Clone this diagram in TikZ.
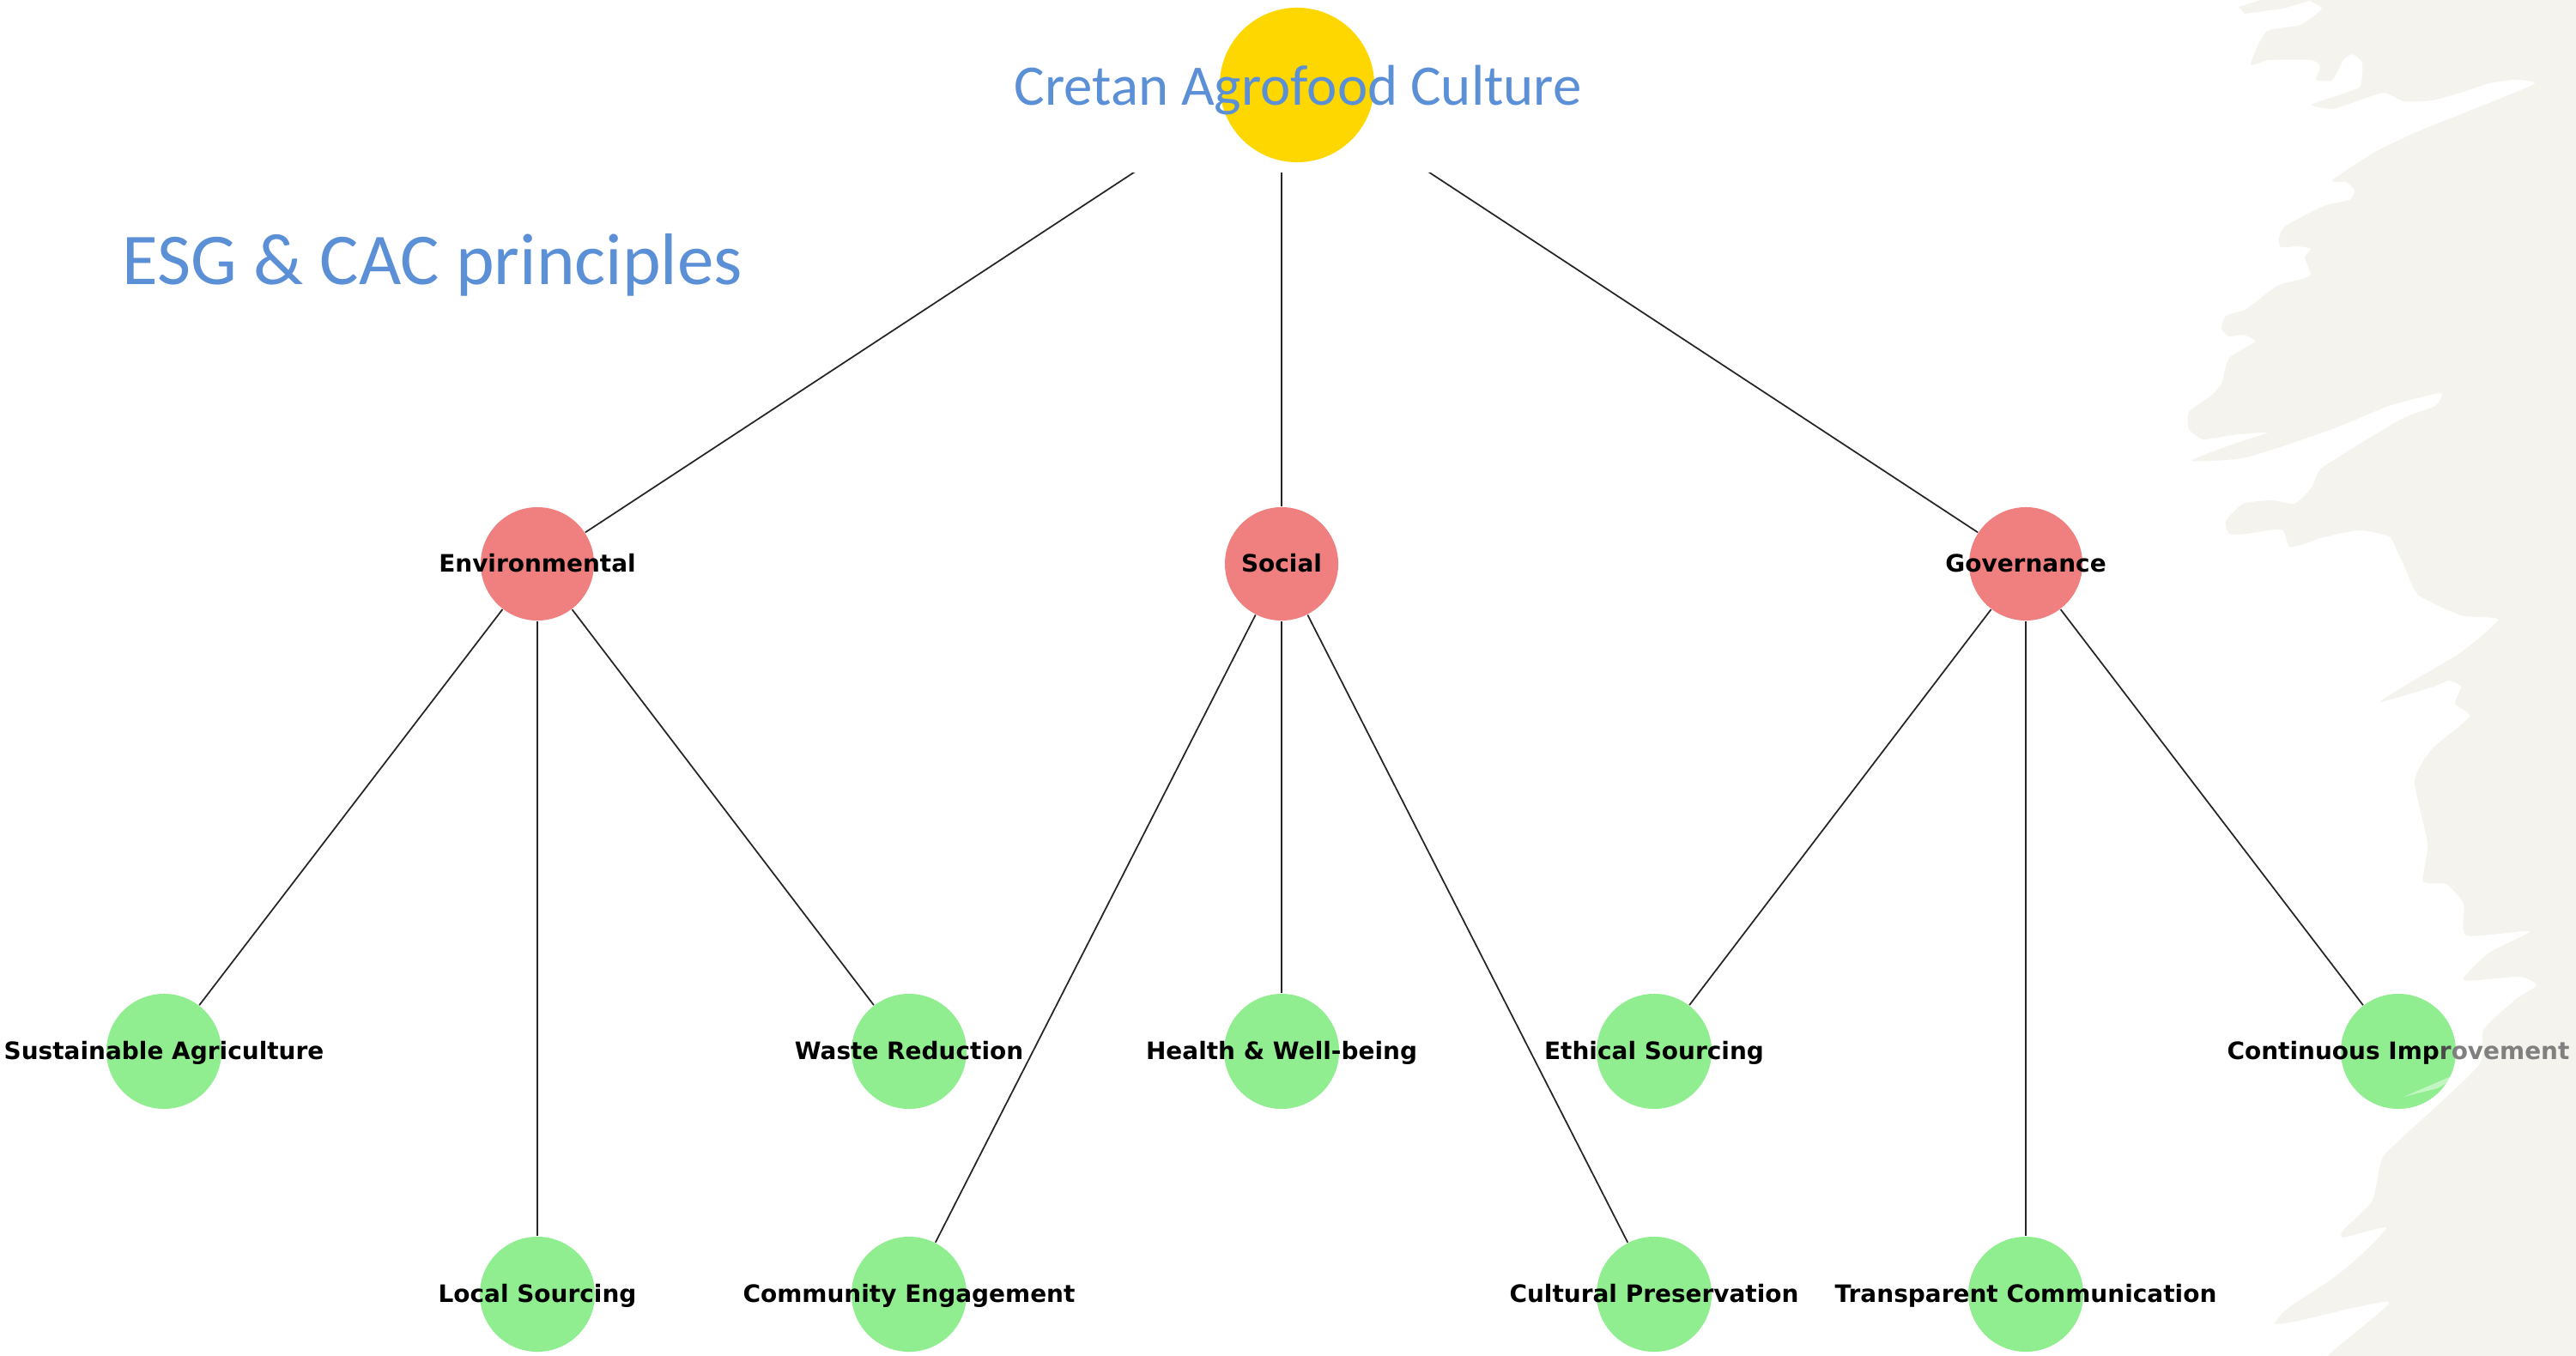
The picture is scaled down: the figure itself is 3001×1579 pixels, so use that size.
\documentclass[tikz,border=0pt]{standalone}
\usepackage{fontspec}
\setmainfont{DejaVu Sans}
\newfontfamily\headfont{Carlito}

\definecolor{titleblue}{HTML}{5B8FD6}
\definecolor{sun}{HTML}{FFD700}
\definecolor{coral}{HTML}{F08080}
\definecolor{leaf}{HTML}{90EE90}
\definecolor{paper}{HTML}{F4F3EE}

\pgfdeclarelayer{texture}
\pgfdeclarelayer{edges}
\pgfsetlayers{texture,edges,main}

% brush-stroke paper strip along the right edge
\def\brushpath{plot[smooth cycle, tension=0.35] coordinates {
  (2705,-10) (2705,10) (2680,29) (2640,37) (2622,75) (2643,70) (2693,70)
  (2703,78) (2698,93) (2717,93) (2730,70) (2740,63) (2752,73) (2750,100)
  (2733,108) (2693,122) (2717,127) (2740,120) (2777,108) (2800,118)
  (2833,117) (2870,107) (2900,97) (2930,93) (2952,98) (2867,133)
  (2817,153) (2767,177) (2717,210) (2733,212) (2743,222) (2737,233)
  (2707,240) (2663,263) (2655,277) (2657,288) (2677,287) (2692,290)
  (2685,300) (2692,320) (2682,325) (2653,333) (2617,360) (2593,368)
  (2588,383) (2597,392) (2613,390) (2627,398) (2597,417) (2588,447)
  (2577,460) (2550,480) (2550,500) (2567,512) (2600,507) (2642,504)
  (2600,518) (2553,537) (2617,533) (2717,500) (2783,473) (2843,458)
  (2837,473) (2800,487) (2733,527) (2703,547) (2693,568) (2673,587)
  (2647,583) (2613,587) (2593,607) (2597,622) (2617,622) (2658,617)
  (2667,637) (2687,633) (2703,627) (2747,618) (2783,625) (2793,643)
  (2802,662) (2817,693) (2867,717) (2910,722) (2867,760) (2800,800)
  (2773,818) (2835,800) (2853,793) (2867,800) (2860,820) (2877,835)
  (2833,873) (2813,910) (2828,983) (2823,1027) (2850,1030) (2870,1053)
  (2873,1090) (2947,1085) (2900,1110) (2870,1142) (2935,1138) (2955,1148)
  (2930,1165) (2893,1200) (2887,1242) (2783,1340) (2773,1357) (2763,1400)
  (2730,1433) (2730,1442) (2780,1430) (2753,1460) (2717,1490) (2667,1523)
  (2650,1542) (2673,1540) (2783,1517) (2713,1579) (2700,1620)
  (3100,1650) (3100,-50)}}

\newcommand\topic[5]{%
  \node[#1] (#2) at (#3,#4) {};
  \node[lab] (#2-text) at (#3,#4+9) {#5};}

\begin{document}
\begin{tikzpicture}[x=0.01cm,y=-0.01cm,
  edge/.style={draw=black!85, line width=0.5pt},
  hub/.style={circle, fill=coral, minimum size=1.32cm, inner sep=0pt},
  leafnode/.style={circle, fill=leaf, minimum size=1.34cm, inner sep=0pt},
  lab/.style={anchor=base, inner sep=0pt, font=\bfseries\fontsize{7.95}{9}\selectfont, text=black},
]
\useasboundingbox (0,0) rectangle (3001,1579);

% paper texture
\begin{pgfonlayer}{texture}
  \begin{scope}
    \clip (0,0) rectangle (3001,1579);
    \fill[paper] \brushpath;
    \fill[paper] (2608,8) -- (2615,16) -- (2660,10) -- (2700,-2) -- (2640,-2) -- cycle;
  \end{scope}
\end{pgfonlayer}

% tree nodes
\coordinate (root) at (1493,88);
\topic{hub}{env}{626}{657}{Environmental}
\topic{hub}{soc}{1493}{657}{Social}
\topic{hub}{gov}{2360}{657}{Governance}

\topic{leafnode}{agri}{191}{1225}{Sustainable Agriculture}
\topic{leafnode}{local}{626}{1508}{Local Sourcing}
\topic{leafnode}{waste}{1059}{1225}{Waste Reduction}
\topic{leafnode}{comm}{1059}{1508}{Community Engagement}
\topic{leafnode}{health}{1493}{1225}{Health \& Well-being}
\topic{leafnode}{cult}{1927}{1508}{Cultural Preservation}
\topic{leafnode}{ethic}{1927}{1225}{Ethical Sourcing}
\topic{leafnode}{transp}{2360}{1508}{Transparent Communication}
\topic{leafnode}{improve}{2794}{1225}{Continuous Imp\textcolor{black!70}{r}\textcolor{black!50}{ovement}}

% connectors
\begin{pgfonlayer}{edges}
  \draw[edge] (root) -- (env);
  \draw[edge] (root) -- (soc);
  \draw[edge] (root) -- (gov);
  \draw[edge] (env) -- (agri);
  \draw[edge] (env) -- (local);
  \draw[edge] (env) -- (waste);
  \draw[edge] (soc) -- (comm);
  \draw[edge] (soc) -- (health);
  \draw[edge] (soc) -- (cult);
  \draw[edge] (gov) -- (ethic);
  \draw[edge] (gov) -- (transp);
  \draw[edge] (gov) -- (improve);
\end{pgfonlayer}

% title banner
\fill[white] (1150,0) rectangle (1870,201);
\node[circle, fill=sun, minimum size=1.80cm, inner sep=0pt] (sunnode) at (1511,99) {};
\node[anchor=base, inner sep=0pt, text=titleblue,
      font=\headfont\fontsize{19}{19}\selectfont] (title) at (1512,123) {Cretan Agrofood Culture};

\node[anchor=base west, inner sep=0pt, text=titleblue,
      font=\headfont\fontsize{24.2}{24}\selectfont] (subtitle) at (142,331) {ESG \& CAC principles};

% light brush streak across the last leaf
\fill[white, opacity=0.45] (2800,1278) -- (2888,1240) -- (2840,1268) -- cycle;
\end{tikzpicture}
\end{document}
